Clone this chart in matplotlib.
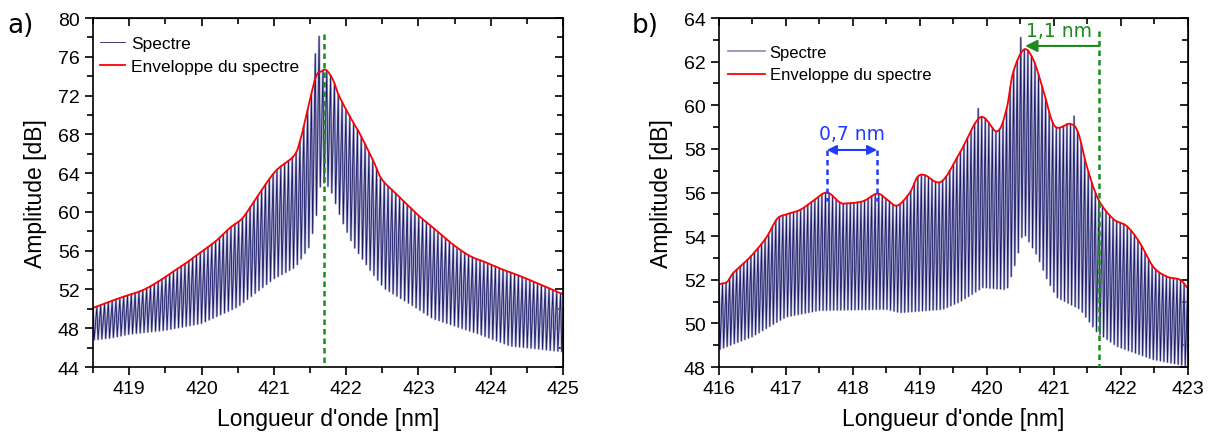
import numpy as np
import matplotlib.pyplot as plt
from matplotlib.ticker import MultipleLocator

plt.rcParams['font.family'] = ['Liberation Sans', 'DejaVu Sans']

# fringe spacing of the spectrum (nm)
fringe_period = 0.053

# ---- panel a : envelope (red) and lower edge of the fringes ----
env_a_x = [418.5, 418.75, 418.9, 419.18, 419.4, 419.6, 419.8, 420.0, 420.2, 420.4,
           420.56, 420.72, 420.9, 421.05, 421.28, 421.37, 421.47, 421.58, 421.66,
           421.73, 421.82, 421.9, 422.07, 422.18, 422.38, 422.49, 422.66, 422.81,
           423.02, 423.23, 423.45, 423.7, 423.93, 424.15, 424.4, 424.72, 425.0]
env_a_y = [50.1, 50.8, 51.2, 51.9, 52.8, 53.8, 54.8, 55.9, 57.0, 58.4,
           59.3, 61.0, 63.0, 64.4, 65.8, 67.5, 70.6, 73.9, 74.5,
           74.6, 73.6, 72.0, 69.6, 68.2, 65.2, 63.4, 62.1, 61.0,
           59.5, 58.2, 56.8, 55.5, 54.8, 54.1, 53.4, 52.4, 51.5]
low_a_x = [418.5, 418.75, 419.0, 419.5, 420.0, 420.5, 421.0, 421.3, 421.5, 421.6,
           421.65, 421.72, 421.8, 421.93, 422.1, 422.35, 422.53, 422.95, 423.2,
           423.84, 424.26, 424.86, 425.0]
low_a_y = [46.8, 47.0, 47.4, 47.8, 48.5, 50.2, 53.1, 54.3, 56.5, 60.0,
           63.0, 63.0, 62.0, 59.3, 56.5, 53.8, 52.1, 50.2, 49.0,
           47.4, 46.2, 45.7, 45.6]
spike_a_x = [421.57, 421.62]
spike_a_y = [76.3, 78.1]

# ---- panel b ----
env_b_x = [416.0, 416.12, 416.21, 416.42, 416.57, 416.72, 416.87, 417.01, 417.21, 417.4,
           417.61, 417.8, 417.9, 418.15, 418.36, 418.5, 418.66, 418.85, 418.96, 419.07,
           419.32, 419.6, 419.9, 420.15, 420.29, 420.39, 420.55, 420.69, 420.84, 421.01,
           421.24, 421.36, 421.49, 421.66, 421.88, 422.09, 422.28, 422.48, 422.68,
           422.88, 423.0]
env_b_y = [51.8, 51.9, 52.3, 52.9, 53.4, 54.0, 54.8, 55.0, 55.2, 55.6,
           56.0, 55.55, 55.5, 55.6, 55.95, 55.7, 55.4, 56.0, 56.7, 56.8,
           56.5, 57.85, 59.45, 58.8, 59.8, 61.5, 62.55, 62.1, 60.7, 59.05,
           59.15, 58.75, 57.2, 55.7, 54.8, 54.45, 53.7, 52.6, 52.15,
           52.0, 51.6]
low_b_x = [416.0, 416.5, 417.0, 417.5, 418.5, 418.7, 419.34, 419.6, 419.94, 420.3,
           420.45, 420.54, 420.75, 420.9, 421.04, 421.39, 421.64, 421.94, 422.48, 422.98]
low_b_y = [48.8, 49.4, 50.3, 50.6, 50.65, 50.5, 50.65, 51.0, 51.65, 51.55,
           53.0, 54.2, 53.1, 52.0, 51.2, 50.65, 49.6, 48.95, 48.35, 48.05]
spike_b_x = [419.87, 420.52, 421.3]
spike_b_y = [59.85, 63.1, 59.5]


def smooth(x, y, n=16):
    # Catmull-Rom curve through the read points
    P = np.column_stack([x, y]).astype(float)
    P = np.vstack([2 * P[0] - P[1], P, 2 * P[-1] - P[-2]])
    t = np.linspace(0, 1, n, endpoint=False)[:, None]
    out = []
    for i in range(1, len(P) - 2):
        p0, p1, p2, p3 = P[i - 1], P[i], P[i + 1], P[i + 2]
        out.append(0.5 * (2 * p1 + (p2 - p0) * t + (2 * p0 - 5 * p1 + 4 * p2 - p3) * t ** 2
                          + (3 * p1 - p0 - 3 * p2 + p3) * t ** 3))
    out.append(P[-2][None])
    c = np.vstack(out)
    return c[:, 0], c[:, 1]


def spectrum(x0, x1, up_x, up_y, lo_x, lo_y, spk_x, spk_y):
    tops = np.arange(x0, x1 + fringe_period, fringe_period)
    top_y = np.interp(tops, up_x, up_y)
    for sx, sy in zip(spk_x, spk_y):
        top_y[np.argmin(np.abs(tops - sx))] = sy
    bots = tops + 0.3 * fringe_period
    bot_y = np.interp(bots, lo_x, lo_y)
    xs = np.empty(2 * len(tops))
    ys = np.empty(2 * len(tops))
    xs[0::2], xs[1::2] = tops, bots
    ys[0::2], ys[1::2] = top_y, bot_y
    return xs, ys


def style(ax, xlim, ylim, xmaj, ymaj, ymin):
    ax.set_xlim(*xlim)
    ax.set_ylim(*ylim)
    ax.xaxis.set_major_locator(MultipleLocator(xmaj))
    ax.xaxis.set_minor_locator(MultipleLocator(0.5))
    ax.yaxis.set_major_locator(MultipleLocator(ymaj))
    ax.yaxis.set_minor_locator(MultipleLocator(ymin))
    ax.tick_params(which='major', direction='out', length=6, width=1.2, labelsize=14)
    ax.tick_params(which='minor', direction='out', length=4, width=1.2)
    for s in ax.spines.values():
        s.set_linewidth(1.2)
    top = ax.secondary_xaxis('top')
    top.xaxis.set_major_locator(MultipleLocator(xmaj))
    top.xaxis.set_minor_locator(MultipleLocator(0.5))
    top.tick_params(which='major', direction='in', length=6, width=1.2, labeltop=False)
    top.tick_params(which='minor', direction='in', length=4, width=1.2)
    right = ax.secondary_yaxis('right')
    right.yaxis.set_major_locator(MultipleLocator(ymaj))
    right.yaxis.set_minor_locator(MultipleLocator(ymin))
    right.tick_params(which='major', direction='in', length=6, width=1.2, labelright=False)
    right.tick_params(which='minor', direction='in', length=4, width=1.2)
    ax.set_xlabel("Longueur d'onde [nm]", fontsize=16.5, labelpad=7)
    ax.set_ylabel('Amplitude [dB]', fontsize=16.5, labelpad=8)


fig = plt.figure(figsize=(12.1, 4.39), dpi=100)
ax1 = fig.add_axes([0.0769, 0.1617, 0.3884, 0.795])
ax2 = fig.add_axes([0.5942, 0.1617, 0.3876, 0.795])

navy = '#1a1a66'
lav = '#a6a6cc'
green = '#1a8c1a'
blue = '#1f3cff'

# panel a
ex, ey = smooth(env_a_x, env_a_y)
xs, ys = spectrum(418.5, 425.0, ex, ey, low_a_x, low_a_y, spike_a_x, spike_a_y)
ax1.plot(xs, ys, color=lav, lw=1.6, solid_joinstyle='round', zorder=1)
ax1.plot(xs, ys, color=navy, lw=0.6, label='Spectre', zorder=1)
ax1.plot(ex, ey, color='red', lw=1.3, label='Enveloppe du spectre', zorder=2)
ax1.plot([421.7, 421.7], [78.3, 44], color=green, lw=1.8, ls=(0, (2.2, 1.6)), zorder=3)
style(ax1, (418.5, 425), (44, 80), 1, 4, 2)
ax1.legend(loc='upper left', bbox_to_anchor=(0.014, 0.948), frameon=False, fontsize=12.5,
           handlelength=1.45, borderpad=0, borderaxespad=0, labelspacing=0.45,
           handletextpad=0.35)

# panel b
ex, ey = smooth(env_b_x, env_b_y)
xs, ys = spectrum(416.0, 423.0, ex, ey, low_b_x, low_b_y, spike_b_x, spike_b_y)
ax2.plot(xs, ys, color=lav, lw=1.6, solid_joinstyle='round', zorder=1)
ax2.plot(xs, ys, color=navy, lw=0.6, zorder=1)
ax2.plot([], [], color='#8a8ab0', lw=1.2, label='Spectre')
ax2.plot(ex, ey, color='red', lw=1.3, label='Enveloppe du spectre', zorder=2)
ax2.plot([421.67, 421.67], [63.4, 48], color=green, lw=1.8, ls=(0, (2.2, 1.6)), zorder=3)
ax2.annotate('', xy=(420.57, 62.72), xytext=(421.67, 62.72),
             arrowprops=dict(arrowstyle='-|>', color=green, lw=1.5, mutation_scale=18,
                             shrinkA=0, shrinkB=0))
ax2.text(421.07, 63.17, '1,1 nm', color=green, fontsize=13.5, ha='center',
         va='baseline', family='DejaVu Sans')
for xv in (417.61, 418.36):
    ax2.plot([xv, xv], [57.95, 55.6], color=blue, lw=1.8, ls=(0, (2.2, 1.6)), zorder=3)
ax2.annotate('', xy=(417.61, 57.95), xytext=(418.36, 57.95),
             arrowprops=dict(arrowstyle='<|-|>', color=blue, lw=1.5,
                             mutation_scale=14, shrinkA=0, shrinkB=0))
ax2.text(417.985, 58.45, '0,7 nm', color=blue, fontsize=13.5, ha='center',
         va='baseline', family='DejaVu Sans')
style(ax2, (416, 423), (48, 64), 1, 2, 1)
ax2.legend(loc='upper left', bbox_to_anchor=(0.019, 0.923), frameon=False, fontsize=12,
           handlelength=2.2, borderpad=0, borderaxespad=0, labelspacing=0.45,
           handletextpad=0.3)

fig.text(0.006, 1 - 33 / 439, 'a)', fontsize=19, family='DejaVu Sans', va='baseline')
fig.text(0.522, 1 - 33 / 439, 'b)', fontsize=19, family='DejaVu Sans', va='baseline')

fig.savefig('out.png', dpi=100)
